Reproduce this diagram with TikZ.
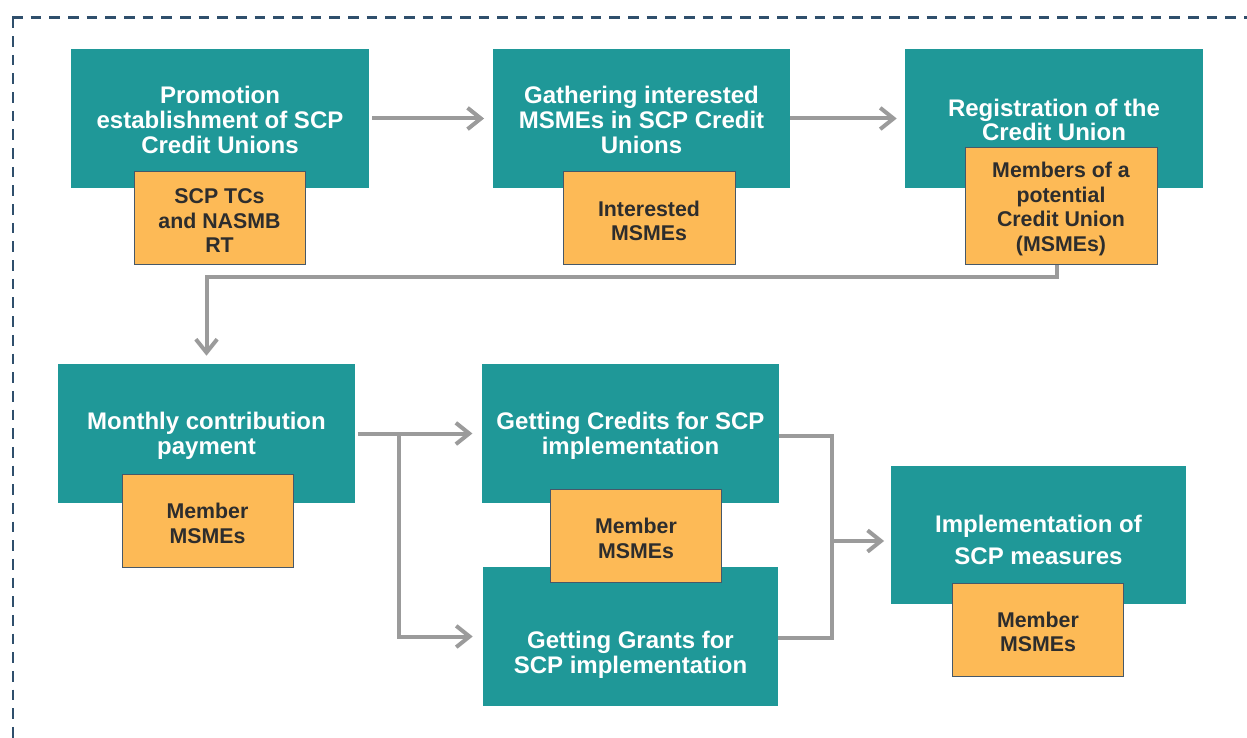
\documentclass[tikz,border=0pt]{standalone}
\usepackage{fontspec}
\setmainfont{Liberation Sans}
\usetikzlibrary{arrows.meta}
\definecolor{tealc}{RGB}{31,152,152}
\definecolor{orangec}{RGB}{253,186,86}
\definecolor{oborder}{RGB}{70,88,105}
\definecolor{arrowc}{RGB}{155,155,155}
\definecolor{dashc}{RGB}{47,79,108}
\definecolor{dtext}{RGB}{45,45,45}
\tikzset{
  tealbox/.style={fill=tealc, draw=none, inner sep=0pt},
  orbox/.style={fill=orangec, draw=oborder, line width=0.75pt, inner sep=0pt},
  ttext/.style={text=white, align=center, font=\fontsize{18}{18.6}\selectfont\bfseries, inner sep=0pt},
  ttextb/.style={text=white, align=center, font=\fontsize{18}{24}\selectfont\bfseries, inner sep=0pt},
  otext/.style={text=dtext, align=center, font=\fontsize{16}{18.4}\selectfont\bfseries, inner sep=0pt},
  conn/.style={draw=arrowc, line width=3pt, -{Straight Barb[length=10pt,width=16pt,line width=3pt]}},
  connp/.style={draw=arrowc, line width=3pt},
}
\begin{document}
\begin{tikzpicture}[x=0.75pt,y=-0.75pt]
\useasboundingbox (0,0) rectangle (1247,738);
% dashed frame
\draw[dashc, line width=2pt, dash pattern=on 8pt off 6pt] (13,17.5) -- (13,745);
\draw[dashc, line width=2pt, dash pattern=on 8pt off 6pt] (12,17.5) -- (1255,17.5);

% teal boxes
\node[tealbox, minimum width=298*0.75pt, minimum height=139*0.75pt] (promo) at (220,118.5) {};
\node[tealbox, minimum width=297*0.75pt, minimum height=139*0.75pt] (gath) at (641.5,118.5) {};
\node[tealbox, minimum width=298*0.75pt, minimum height=139*0.75pt] (reg) at (1054,118.5) {};
\node[tealbox, minimum width=297*0.75pt, minimum height=139*0.75pt] (month) at (206.5,433.5) {};
\node[tealbox, minimum width=297*0.75pt, minimum height=139*0.75pt] (cred) at (630.5,433.5) {};
\node[tealbox, minimum width=295*0.75pt, minimum height=139*0.75pt] (grant) at (630.5,636.5) {};
\node[tealbox, minimum width=295*0.75pt, minimum height=138*0.75pt] (impl) at (1038.5,535) {};

% teal texts
\node[ttext] (promoT) at (220,120) {Promotion\\establishment of SCP\\Credit Unions};
\node[ttext] (gathT) at (641.5,120) {Gathering interested\\MSMEs in SCP Credit\\Unions};
\node[ttext] (regT) at (1054,120) {Registration of the\\Credit Union};
\node[ttext] (monthT) at (206.5,435.5) {Monthly contribution\\payment};
\node[ttext] (credT) at (630.5,435.5) {Getting Credits for SCP\\implementation};
\node[ttext] (grantT) at (630.5,655) {Getting Grants for\\SCP implementation};
\node[ttextb] (implT) at (1038.5,540) {Implementation of\\SCP measures};

% orange boxes
\node[orbox, minimum width=171*0.75pt, minimum height=93*0.75pt] (o1) at (219.5,218.5) {};
\node[orbox, minimum width=172*0.75pt, minimum height=93*0.75pt] (o2) at (649,218.5) {};
\node[orbox, minimum width=192*0.75pt, minimum height=117*0.75pt] (o3) at (1061,206.5) {};
\node[orbox, minimum width=171*0.75pt, minimum height=93*0.75pt] (o4) at (207.5,520.5) {};
\node[orbox, minimum width=171*0.75pt, minimum height=93*0.75pt] (o5) at (636,536) {};
\node[orbox, minimum width=171*0.75pt, minimum height=93*0.75pt] (o6) at (1038,629.5) {};

\node[otext] (o1T) at (219.5,221) {SCP TCs\\and NASMB\\RT};
\node[otext] (o2T) at (649,221) {Interested\\MSMEs};
\node[otext] (o3T) at (1061,209) {Members of a\\potential\\Credit Union\\(MSMEs)};
\node[otext] (o4T) at (207.5,523.5) {Member\\MSMEs};
\node[otext] (o5T) at (636,538.5) {Member\\MSMEs};
\node[otext] (o6T) at (1038,632) {Member\\MSMEs};

% connectors
\draw[conn, shorten <=2.2pt, shorten >=6.5pt] (promo.east) -- (gath.west);
\draw[conn, shorten >=6pt] (gath.east) -- (reg.west);
\coordinate (bend1) at (1057,277);
\draw[conn, shorten >=6pt] (o3.south -| bend1) -- (bend1) -| (month.north);
\coordinate (split) at (399,433.5);
\draw[conn, shorten <=2pt, shorten >=7pt] (month.east) -- (cred.west);
\draw[conn, shorten >=7.5pt] (split) |- (grant.west);
\coordinate (join) at (832,541);
\draw[connp] (cred.east |- 0,436) -| (join |- 0,436) -- (join |- 0,638) -- (grant.east |- 0,638);
\draw[conn, shorten >=5pt] (join) -- (join -| impl.west);
\end{tikzpicture}
\end{document}
